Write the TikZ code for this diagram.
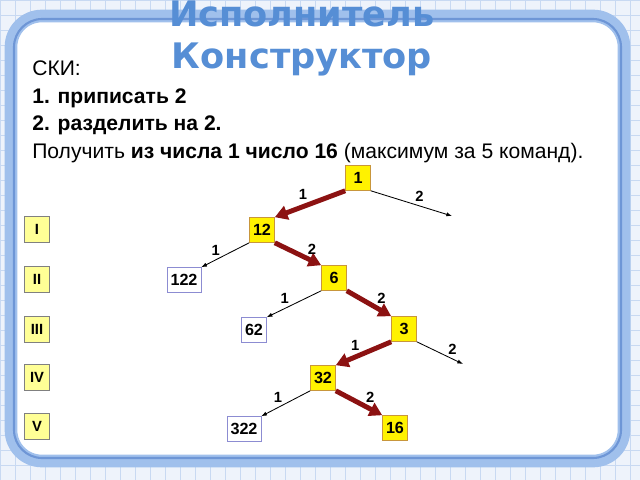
\documentclass[tikz,border=0pt]{standalone}
\usepackage{fontspec}
\setmainfont{Liberation Sans}
\newfontfamily\titlefont{DejaVu Sans}
\usetikzlibrary{arrows.meta}

\definecolor{ttlblue}{RGB}{86,142,213}
\definecolor{frameblue}{RGB}{160,192,236}
\definecolor{framedark}{RGB}{110,150,214}
\definecolor{gridblue}{RGB}{200,217,242}
\definecolor{paper}{RGB}{238,243,251}
\definecolor{wayred}{RGB}{140,18,18}
\definecolor{boxedge}{RGB}{200,150,60}
\definecolor{altedge}{RGB}{140,140,210}
\definecolor{lvlfill}{RGB}{255,255,150}

\begin{document}
\begin{tikzpicture}[x=0.025cm,y=-0.025cm,
  num/.style={draw=boxedge,fill=yellow,font=\fontsize{11.5}{13}\selectfont\bfseries,minimum width=0.625cm,minimum height=0.625cm,inner sep=2pt},
  alt/.style={draw=altedge,fill=white,font=\fontsize{11.5}{13}\selectfont\bfseries,minimum width=0.625cm,minimum height=0.625cm,inner sep=2.5pt},
  lvl/.style={draw=gray,fill=lvlfill,font=\fontsize{10.5}{12}\selectfont\bfseries,minimum width=0.625cm,minimum height=0.65cm,inner sep=1pt},
  way/.style={wayred,line width=3.5pt,-{Triangle[length=9pt,width=10pt]}},
  side/.style={black,line width=.6pt,-{Latex[length=4pt,width=3pt]}},
  lbl/.style={text=black,font=\fontsize{10.5}{12}\selectfont\bfseries,inner sep=1pt,above=2pt},
  txt/.style={anchor=base west,inner sep=0,font=\fontsize{15}{18}\selectfont}]
\useasboundingbox (0,0) rectangle (640,480);
\fill[paper] (0,0) rectangle (640,480);
\foreach \g in {0,15,...,630} \draw[gridblue] (\g,0) -- (\g,480);
\foreach \g in {0,15,...,480} \draw[gridblue] (0,\g) -- (640,\g);

\draw[frameblue,line width=9pt,rounded corners=22pt,fill=white] (11,16) rectangle (624,461);
\draw[framedark,line width=1.5pt,rounded corners=20pt] (14,19) rectangle (621,458);

\node[ttlblue,anchor=base,inner sep=0,font=\titlefont\fontsize{25}{30}\selectfont\bfseries] (ttla) at (302,26) {Исполнитель};
\node[ttlblue,anchor=base,inner sep=0,font=\titlefont\fontsize{25}{30}\selectfont\bfseries] (ttlb) at (302,68) {Конструктор};

\node[txt] (ski) at (32,75) {СКИ:};
\node[txt] (cmda) at (32,103) {\bfseries 1. приписать 2};
\node[txt] (cmdb) at (32,130) {\bfseries 2. разделить на 2.};
\node[txt] (task) at (32,158) {Получить \textbf{из числа 1 число 16} (максимум за 5 команд).};

\foreach \r/\y in {I/229,II/279,III/329,IV/377,V/426} \node[lvl] (lv\r) at (37,\y) {\r};

\node[num] (n1) at (358,178) {1};
\node[num] (n12) at (262,230) {12};
\node[num] (n6) at (334,278) {6};
\node[num] (n3) at (404,329) {3};
\node[num] (n32) at (323,378) {32};
\node[num] (n16) at (395,428) {16};
\node[alt] (n122) at (184,280) {122};
\node[alt] (n62) at (254,330) {62};
\node[alt] (n322) at (244,429) {322};
\coordinate (r1) at (452,216);
\coordinate (r3) at (463,364);

\draw[way] (n1.south west) -- (n12.north east) node[lbl,pos=.6] {1};
\draw[side] (n1.south east) -- (r1) node[lbl,pos=.6] {2};
\draw[side] (n12.south west) -- (n122.north east) node[lbl,pos=.7] {1};
\draw[way] (n12.south east) -- (n6.north west) node[lbl,pos=.8] {2};
\draw[side] (n6.south west) -- (n62.north east) node[lbl,pos=.67] {1};
\draw[way] (n6.south east) -- (n3.north west) node[lbl,pos=.78] {2};
\draw[way] (n3.south west) -- (n32.north east) node[lbl,pos=.65] {1};
\draw[side] (n3.south east) -- (r3) node[lbl,pos=.77] {2};
\draw[side] (n32.south west) -- (n322.north east) node[lbl,pos=.66] {1};
\draw[way] (n32.south east) -- (n16.north west) node[lbl,pos=.74] {2};
\end{tikzpicture}
\end{document}
